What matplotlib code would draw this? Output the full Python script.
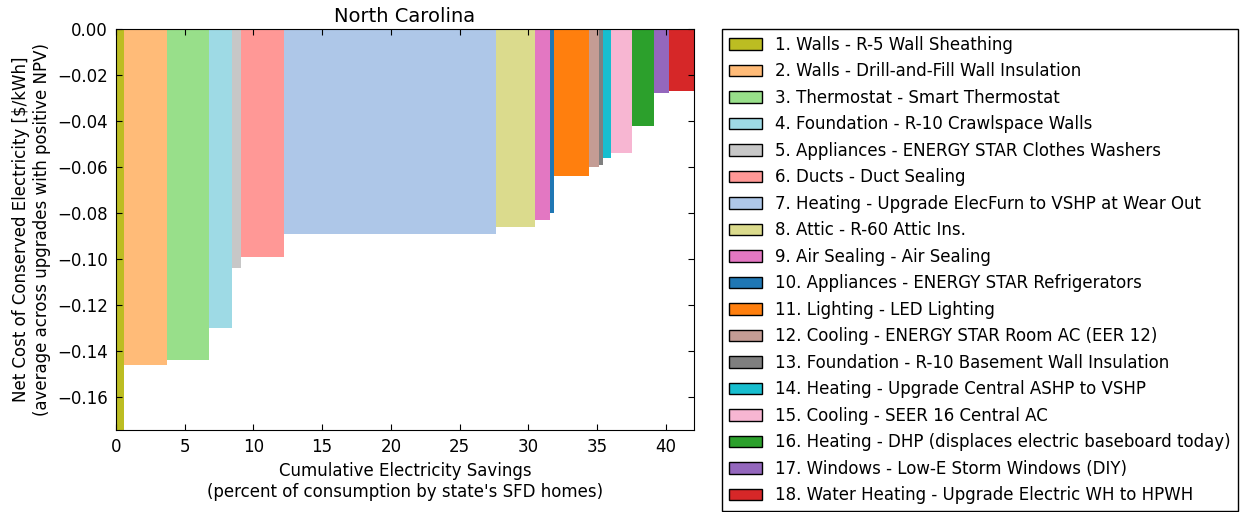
import matplotlib
matplotlib.use('Agg')
import matplotlib.pyplot as plt
from matplotlib.patches import Patch
from matplotlib.ticker import MultipleLocator
import numpy as np

# Upgrade names (in order of cost-effectiveness)
upgrades = [
    '1. Walls - R-5 Wall Sheathing',
    '2. Walls - Drill-and-Fill Wall Insulation',
    '3. Thermostat - Smart Thermostat',
    '4. Foundation - R-10 Crawlspace Walls',
    '5. Appliances - ENERGY STAR Clothes Washers',
    '6. Ducts - Duct Sealing',
    '7. Heating - Upgrade ElecFurn to VSHP at Wear Out',
    '8. Attic - R-60 Attic Ins.',
    '9. Air Sealing - Air Sealing',
    '10. Appliances - ENERGY STAR Refrigerators',
    '11. Lighting - LED Lighting',
    '12. Cooling - ENERGY STAR Room AC (EER 12)',
    '13. Foundation - R-10 Basement Wall Insulation',
    '14. Heating - Upgrade Central ASHP to VSHP',
    '15. Cooling - SEER 16 Central AC',
    '16. Heating - DHP (displaces electric baseboard today)',
    '17. Windows - Low-E Storm Windows (DIY)',
    '18. Water Heating - Upgrade Electric WH to HPWH',
]

# electricity savings of each upgrade (percent of consumption)
savings = [0.57, 3.13, 3.05, 1.70, 0.65, 3.09, 15.45, 2.84, 1.11,
           0.29, 2.51, 0.75, 0.27, 0.58, 1.55, 1.58, 1.11, 1.82]

# net cost of conserved electricity ($/kWh)
cost = [-0.1743, -0.146, -0.144, -0.130, -0.104, -0.099, -0.089, -0.086, -0.083,
        -0.080, -0.064, -0.060, -0.059, -0.056, -0.054, -0.042, -0.028, -0.027]

colors = ['#bcbd22', '#ffbb78', '#98df8a', '#9edae5', '#c7c7c7', '#ff9896',
          '#aec7e8', '#dbdb8d', '#e377c2', '#1f77b4', '#ff7f0e', '#c49c94',
          '#7f7f7f', '#17becf', '#f7b6d2', '#2ca02c', '#9467bd', '#d62728']

plt.rcParams['font.family'] = 'DejaVu Sans'
plt.rcParams['font.size'] = 12
plt.rcParams['xtick.direction'] = 'in'
plt.rcParams['ytick.direction'] = 'in'
plt.rcParams['xtick.top'] = True
plt.rcParams['ytick.right'] = True
plt.rcParams['xtick.major.size'] = 4
plt.rcParams['ytick.major.size'] = 4

fig = plt.figure(figsize=(12.47, 5.12), dpi=100)
ax = fig.add_axes([0.093, 0.160, 0.4635, 0.7834])

left = np.concatenate([[0], np.cumsum(savings)[:-1]])
ax.bar(left, cost, width=savings, align='edge', color=colors, linewidth=0)

ax.set_xlim(0, sum(savings))
ax.set_ylim(min(cost), 0)
ax.yaxis.set_major_locator(MultipleLocator(0.02))
ax.xaxis.set_major_locator(MultipleLocator(5))
ax.tick_params(labelsize=12, pad=6)

ax.set_title('North Carolina', fontsize=14, pad=5)
ax.set_xlabel("Cumulative Electricity Savings\n(percent of consumption by state's SFD homes)", fontsize=12)
ax.set_ylabel('Net Cost of Conserved Electricity [\\$/kWh]\n(average across upgrades with positive NPV)', fontsize=12)

handles = [Patch(facecolor=c, edgecolor='black', linewidth=1) for c in colors]
leg = fig.legend(handles, upgrades, loc='upper left', bbox_to_anchor=(722 / 1247, 1 - 29 / 512),
                 bbox_transform=fig.transFigure, borderaxespad=0, fontsize=12,
                 fancybox=False, edgecolor='black', framealpha=1, labelspacing=0.51)
leg.get_frame().set_linewidth(1)

fig.savefig('out.png', dpi=100)
